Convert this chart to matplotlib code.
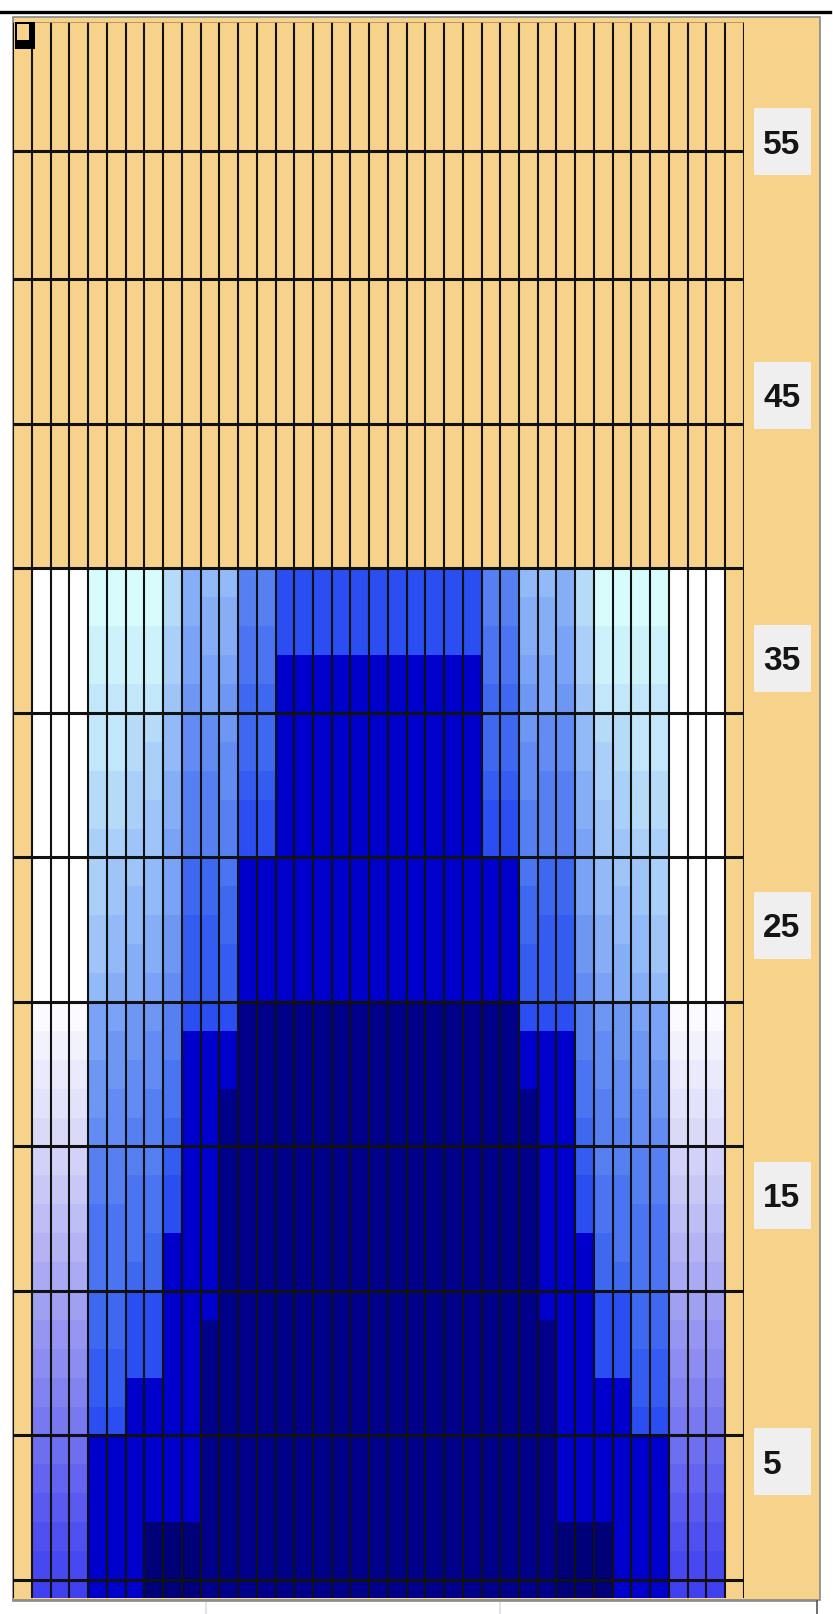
import numpy as np
import matplotlib
matplotlib.use('Agg')
import matplotlib.pyplot as plt
from matplotlib.colors import ListedColormap
from matplotlib.patches import Rectangle

# cell colour codes, one string per row, top row first (39 columns)
rows = [
	"TWWWaaaadhggll" "ppppppppppp" "llgghdaaaaWWWT",
	"TWWWaaaadhhhll" "ppppppppppp" "llhhhdaaaaWWWT",
	"TWWWbbbbeihhmm" "ppppppppppp" "mmhhiebbbbWWWT",
	"TWWWbbbbeiiimm" "xxxxxxxxxxx" "mmiiiebbbbWWWT",
	"TWWWccccfjijnn" "xxxxxxxxxxx" "nnjijfccccWWWT",
	"TWWWccddgkkjnn" "xxxxxxxxxxx" "nnjkkgddccWWWT",
	"TWWWccdegkkknn" "xxxxxxxxxxx" "nnkkkgedccWWWT",
	"TWWWddeehllkoo" "xxxxxxxxxxx" "ookllheeddWWWT",
	"TWWWddefhlllpp" "xxxxxxxxxxx" "pplllhfeddWWWT",
	"TWWWeeffilllpp" "xxxxxxxxxxx" "ppllliffeeWWWT",
	"TWWWeffginnm" "xxxxxxxxxxxxxxx" "mnnigffeWWWT",
	"TWWWefgginnn" "xxxxxxxxxxxxxxx" "nnniggfeWWWT",
	"TWWWfgghjoon" "xxxxxxxxxxxxxxx" "noojhggfWWWT",
	"TWWWfghhjooo" "xxxxxxxxxxxxxxx" "ooojhhgfWWWT",
	"TWWWghhikooo" "xxxxxxxxxxxxxxx" "oookihhgWWWT",
	"TAAAiijjlppp" "yyyyyyyyyyyyyyy" "pppljjiiAAAT",
	"TBBBijjklxxx" "yyyyyyyyyyyyyyy" "xxxlkjjiBBBT",
	"TCCCjjkkmxxx" "yyyyyyyyyyyyyyy" "xxxmkkjjCCCT",
	"TDDDjkklmxx" "yyyyyyyyyyyyyyyyy" "xxmlkkjDDDT",
	"TEEEkkllnxx" "yyyyyyyyyyyyyyyyy" "xxnllkkEEET",
	"TFFFlllloxx" "yyyyyyyyyyyyyyyyy" "xxollllFFFT",
	"TGGGllmmpxx" "yyyyyyyyyyyyyyyyy" "xxpmmllGGGT",
	"THHHmmmmpxx" "yyyyyyyyyyyyyyyyy" "xxpmmmmHHHT",
	"TIIImmmnxxx" "yyyyyyyyyyyyyyyyy" "xxxnmmmIIIT",
	"TJJJmmnnxxx" "yyyyyyyyyyyyyyyyy" "xxxnnmmJJJT",
	"TKKKnnppxxx" "yyyyyyyyyyyyyyyyy" "xxxppnnKKKT",
	"TLLLnnppxx" "yyyyyyyyyyyyyyyyyyy" "xxppnnLLLT",
	"TMMMooppxx" "yyyyyyyyyyyyyyyyyyy" "xxppooMMMT",
	"TNNNooxxxx" "yyyyyyyyyyyyyyyyyyy" "xxxxooNNNT",
	"TOOOppxxxx" "yyyyyyyyyyyyyyyyyyy" "xxxxppOOOT",
	"TPPPxxxxxx" "yyyyyyyyyyyyyyyyyyy" "xxxxxxPPPT",
	"TQQQxxxxxx" "yyyyyyyyyyyyyyyyyyy" "xxxxxxQQQT",
	"TRRRxxxxxx" "yyyyyyyyyyyyyyyyyyy" "xxxxxxRRRT",
	"TSSSxxxzzz" "yyyyyyyyyyyyyyyyyyy" "zzzxxxSSST",
	"TUUUxxxzzz" "yyyyyyyyyyyyyyyyyyy" "zzzxxxUUUT",
	"TVVVxxxzzz" "yyyyyyyyyyyyyyyyyyy" "zzzxxxVVVT",
]

palette = {
	'T': '#f6d28b', 'W': '#ffffff',
	'a': '#d8fcfc', 'b': '#cdf2fb', 'c': '#c2e6fa', 'd': '#b6dbf9', 'e': '#aacff8',
	'f': '#9ec4f8', 'g': '#92b9f8', 'h': '#86aef7', 'i': '#7aa2f6', 'j': '#6e97f4',
	'k': '#628cf3', 'l': '#5680f2', 'm': '#4a74f1', 'n': '#3e68f0', 'o': '#345cf0',
	'p': '#2a4ef2', 'x': '#0000cc', 'y': '#00008b', 'z': '#000078',
	'A': '#fafaff', 'B': '#f2f2fd', 'C': '#eaeafc', 'D': '#e2e2fa', 'E': '#dadaf8',
	'F': '#d2d2f8', 'G': '#c8c8f7', 'H': '#bebef6', 'I': '#b4b4f5', 'J': '#aaaaf4',
	'K': '#a0a0f3', 'L': '#9696f2', 'M': '#8c8cf1', 'N': '#8282f0', 'O': '#7878f0',
	'P': '#6e6ef0', 'Q': '#6464f0', 'R': '#5a5af0', 'S': '#5050f0', 'U': '#4848f0',
	'V': '#4040f0',
}

n_cols = 39
row_bottom = -1                      # lowest (partly hidden) row
layer_edges = [0, 5, 10, 15, 20, 25, 30, 35, 40, 45, 49.43]
view_rows = (-0.623, 53.91)
label_values = ['5', '15', '25', '35', '45', '55']
label_rows = [4.1, 13.32, 22.65, 31.89, 41.0, 49.77]

tan = palette['T']
codes = list(palette.keys())
grid = np.array([[codes.index(ch) for ch in r] for r in rows[::-1]])

W, H = 833, 1614
fig = plt.figure(figsize=(W / 100, H / 100), dpi=100)
fig.patch.set_facecolor('white')

# tan panel behind everything
fig.patches.append(Rectangle((13 / W, 14 / H), 807 / W, 1583 / H, transform=fig.transFigure,
	facecolor=tan, edgecolor='#888888', linewidth=1.2, zorder=-10))
fig.add_artist(plt.Line2D([0, 830 / W], [1 - 11.5 / H, 1 - 11.5 / H], color='black', lw=2.4, zorder=-5))
# table header strip under the panel
fig.add_artist(plt.Line2D([13 / W, 817 / W], [1 - 1601 / H] * 2, color='#8a8a8a', lw=1.2, zorder=-5))
fig.add_artist(plt.Line2D([817 / W] * 2, [0, 1 - 1601 / H], color='#555555', lw=1.2, zorder=-5))
for xp in [206, 500]:
	fig.add_artist(plt.Line2D([xp / W] * 2, [0, 1 - 1603 / H], color='#dddddd', lw=1.2, zorder=-5))

col_w = 18.73
row_h = 28.9
ax = fig.add_axes([13.3 / W, 16 / H, n_cols * col_w / W, 1576 / H])
ax.set_zorder(5)
ax.set_xlim(0, n_cols)
ax.set_ylim(*view_rows)
ax.axis('off')

x_edges = np.arange(n_cols + 1)
y_edges = np.arange(row_bottom, row_bottom + len(rows) + 1)
cmap = ListedColormap([palette[c] for c in codes])
ax.pcolormesh(x_edges, y_edges, grid, cmap=cmap, vmin=-0.5, vmax=len(codes) - 0.5,
	shading='flat', antialiased=False, zorder=1)

ax.vlines(x_edges, view_rows[0], view_rows[1], colors='#111111', linewidth=1.5, zorder=3)
ax.hlines(layer_edges, 0, n_cols, colors='#111111', linewidth=2.2, zorder=3)
ax.hlines([view_rows[1]], 0, n_cols, colors='#b58a55', linewidth=1.2, zorder=3)

# selection cursor on the first cell
ax.add_patch(Rectangle((0.09, 52.98), 1.07, 0.93, facecolor='black', edgecolor='none', zorder=4, clip_on=False))
ax.add_patch(Rectangle((0.2, 53.29), 0.64, 0.55, facecolor=tan, edgecolor='none', zorder=5, clip_on=False))

# row labels in grey boxes on the right strip
box_x = (754 - 13.3) / col_w
box_w = 57 / col_w
box_h = 67 / row_h
digit_h = 24 / row_h
for txt, yr in zip(label_values, label_rows):
	ax.add_patch(Rectangle((box_x, yr - box_h / 2), box_w, box_h, facecolor='#efefef',
		edgecolor='none', zorder=2, clip_on=False))
	ax.text(box_x + 9 / col_w, yr - digit_h / 2, txt, ha='left', va='baseline', fontsize=24,
		fontweight='bold', family=['Liberation Sans Narrow', 'Liberation Sans', 'DejaVu Sans'],
		color='#151515', zorder=3, clip_on=False)

fig.savefig('out.png', dpi=100)
